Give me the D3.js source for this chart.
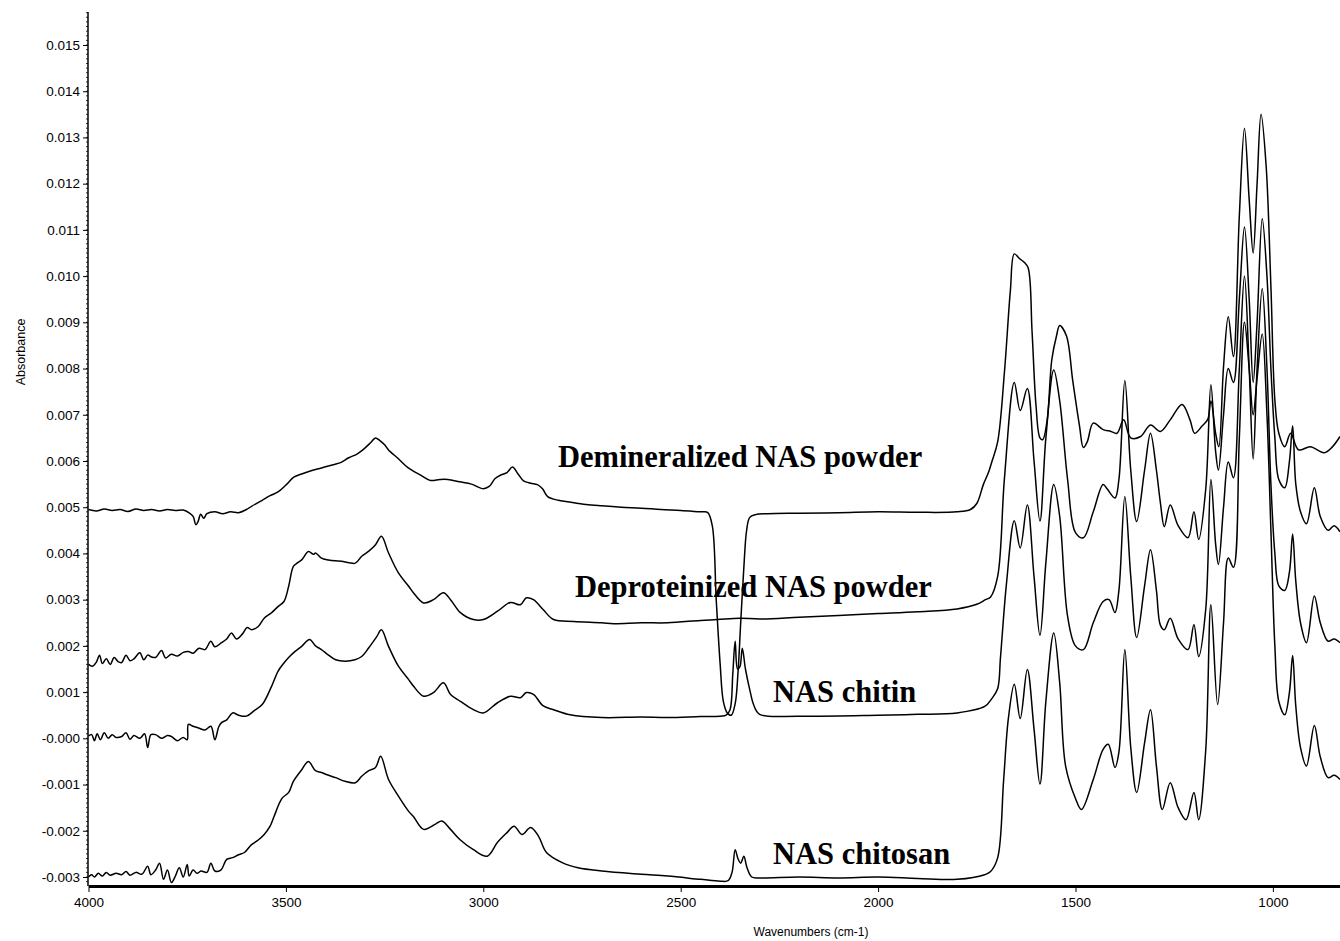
<!DOCTYPE html>
<html>
<head>
<meta charset="utf-8">
<script src="https://cdn.jsdelivr.net/npm/d3@7"></script>
<style>
  body { margin: 0; background: #fff; }
  svg { display: block; }
  .tick text { font-family: "Liberation Sans", Arial, sans-serif; font-size: 13.5px; fill: #000; }
  .lbl { font-family: "Liberation Serif", "Times New Roman", serif; font-weight: bold; font-size: 30.5px; fill: #000; }
</style>
</head>
<body>
<script>
// wavenumber (cm-1), absorbance
var demineralized = [
  [4000,4.95e-3],[3980,4.92e-3],[3960,4.96e-3],[3940,4.93e-3],[3920,4.95e-3],[3900,4.91e-3],[3880,4.96e-3],
  [3860,4.93e-3],[3840,4.95e-3],[3820,4.92e-3],[3800,4.95e-3],[3780,4.93e-3],[3760,4.94e-3],[3745,4.88e-3],
  [3735,4.80e-3],[3728,4.62e-3],[3722,4.70e-3],[3716,4.85e-3],[3708,4.76e-3],[3700,4.86e-3],[3680,4.90e-3],
  [3660,4.86e-3],[3640,4.90e-3],[3620,4.88e-3],[3600,4.95e-3],[3587,5.02e-3],[3560,5.15e-3],[3540,5.25e-3],
  [3520,5.33e-3],[3500,5.48e-3],[3480,5.65e-3],[3460,5.72e-3],[3440,5.78e-3],[3410,5.85e-3],[3380,5.92e-3],
  [3360,5.97e-3],[3341,6.07e-3],[3320,6.15e-3],[3300,6.28e-3],[3285,6.40e-3],[3273,6.50e-3],[3262,6.44e-3],
  [3250,6.35e-3],[3240,6.24e-3],[3215,6.05e-3],[3190,5.85e-3],[3160,5.70e-3],[3134,5.58e-3],[3110,5.60e-3],
  [3090,5.60e-3],[3060,5.55e-3],[3030,5.50e-3],[3000,5.40e-3],[2985,5.45e-3],[2970,5.62e-3],[2955,5.70e-3],
  [2940,5.75e-3],[2926,5.87e-3],[2912,5.72e-3],[2898,5.57e-3],[2880,5.52e-3],[2863,5.49e-3],[2850,5.40e-3],
  [2837,5.23e-3],[2810,5.15e-3],[2787,5.12e-3],[2740,5.06e-3],[2700,5.03e-3],[2650,5.00e-3],[2600,4.98e-3],
  [2550,4.95e-3],[2500,4.93e-3],[2450,4.90e-3],[2432,4.89e-3],[2420,4.60e-3],[2410,3.00e-3],[2400,1.60e-3],
  [2392,0.80e-3],[2382,0.55e-3],[2372,0.50e-3],[2362,0.75e-3],[2355,1.40e-3],[2348,2.50e-3],[2340,3.70e-3],
  [2333,4.50e-3],[2325,4.78e-3],[2310,4.84e-3],[2280,4.86e-3],[2200,4.87e-3],[2100,4.88e-3],[2000,4.90e-3],
  [1900,4.89e-3],[1800,4.90e-3],[1766,4.95e-3],[1750,5.08e-3],[1733,5.50e-3],[1720,5.76e-3],[1712,5.98e-3],
  [1697,6.42e-3],[1680,7.92e-3],[1665,9.68e-3],[1655,10.48e-3],[1642,10.38e-3],[1630,10.30e-3],[1620,10.18e-3],
  [1610,8.80e-3],[1600,7.20e-3],[1590,6.50e-3],[1583,6.46e-3],[1572,6.87e-3],[1560,8.19e-3],[1548,8.71e-3],
  [1540,8.93e-3],[1523,8.71e-3],[1507,7.74e-3],[1490,6.77e-3],[1480,6.29e-3],[1470,6.42e-3],[1455,6.82e-3],
  [1430,6.68e-3],[1410,6.64e-3],[1395,6.60e-3],[1378,6.89e-3],[1360,6.50e-3],[1335,6.53e-3],[1310,6.78e-3],
  [1285,6.64e-3],[1260,6.89e-3],[1230,7.22e-3],[1210,6.89e-3],[1198,6.60e-3],[1180,6.75e-3],[1165,6.90e-3],
  [1157,7.30e-3],[1145,6.60e-3],[1137,6.31e-3],[1125,8.04e-3],[1113,9.12e-3],[1100,8.26e-3],[1085,11.30e-3],
  [1072,13.20e-3],[1060,11.65e-3],[1050,10.50e-3],[1040,12.00e-3],[1030,13.50e-3],[1017,12.37e-3],[1005,9.77e-3],
  [995,7.32e-3],[985,6.60e-3],[970,6.31e-3],[955,6.60e-3],[935,6.24e-3],[905,6.31e-3],[870,6.18e-3],
  [850,6.30e-3],[830,6.53e-3]
];

var deproteinized = [
  [4000,1.60e-3],[3990,1.56e-3],[3980,1.65e-3],[3972,1.80e-3],[3965,1.62e-3],[3955,1.72e-3],[3945,1.60e-3],
  [3935,1.75e-3],[3925,1.66e-3],[3916,1.64e-3],[3905,1.80e-3],[3895,1.68e-3],[3885,1.72e-3],[3870,1.85e-3],
  [3860,1.70e-3],[3850,1.80e-3],[3840,1.76e-3],[3830,1.75e-3],[3815,1.90e-3],[3805,1.74e-3],[3790,1.82e-3],
  [3775,1.78e-3],[3760,1.86e-3],[3747,1.88e-3],[3735,1.84e-3],[3720,1.95e-3],[3705,1.92e-3],[3690,2.10e-3],
  [3680,1.98e-3],[3663,2.07e-3],[3650,2.15e-3],[3638,2.28e-3],[3625,2.15e-3],[3610,2.26e-3],[3598,2.40e-3],
  [3587,2.35e-3],[3570,2.42e-3],[3555,2.60e-3],[3536,2.72e-3],[3520,2.85e-3],[3505,2.96e-3],[3493,3.29e-3],
  [3481,3.72e-3],[3470,3.80e-3],[3460,3.86e-3],[3443,4.04e-3],[3430,3.98e-3],[3425,4.01e-3],[3410,3.90e-3],
  [3392,3.86e-3],[3375,3.84e-3],[3359,3.83e-3],[3340,3.80e-3],[3324,3.79e-3],[3308,3.94e-3],[3290,4.05e-3],
  [3273,4.19e-3],[3258,4.37e-3],[3240,4.01e-3],[3215,3.58e-3],[3189,3.29e-3],[3177,3.15e-3],[3151,2.93e-3],
  [3126,3.00e-3],[3101,3.15e-3],[3083,3.00e-3],[3058,2.72e-3],[3025,2.57e-3],[3000,2.57e-3],[2964,2.75e-3],
  [2931,2.94e-3],[2906,2.89e-3],[2891,3.04e-3],[2873,3.00e-3],[2848,2.78e-3],[2822,2.57e-3],[2771,2.53e-3],
  [2700,2.50e-3],[2670,2.48e-3],[2600,2.50e-3],[2533,2.50e-3],[2450,2.55e-3],[2407,2.57e-3],[2350,2.60e-3],
  [2300,2.58e-3],[2200,2.62e-3],[2100,2.66e-3],[2000,2.70e-3],[1900,2.74e-3],[1800,2.80e-3],[1750,2.90e-3],
  [1728,3.00e-3],[1715,3.06e-3],[1697,3.51e-3],[1680,5.62e-3],[1655,7.70e-3],[1640,7.09e-3],[1622,7.57e-3],
  [1605,6.00e-3],[1590,4.70e-3],[1575,6.50e-3],[1555,7.97e-3],[1540,7.30e-3],[1520,5.60e-3],[1500,4.45e-3],
  [1480,4.34e-3],[1455,4.90e-3],[1430,5.49e-3],[1420,5.40e-3],[1400,5.20e-3],[1390,5.60e-3],[1375,7.74e-3],
  [1360,5.80e-3],[1345,4.69e-3],[1325,5.80e-3],[1310,6.60e-3],[1295,5.80e-3],[1285,5.10e-3],[1275,4.58e-3],
  [1260,5.05e-3],[1240,4.60e-3],[1215,4.34e-3],[1200,4.90e-3],[1188,4.30e-3],[1170,5.40e-3],[1157,7.65e-3],
  [1145,6.20e-3],[1138,5.80e-3],[1125,7.00e-3],[1113,8.00e-3],[1100,7.70e-3],[1085,9.50e-3],[1072,11.06e-3],
  [1060,9.50e-3],[1050,7.70e-3],[1040,9.00e-3],[1027,11.24e-3],[1015,10.00e-3],[1005,8.00e-3],[995,6.50e-3],
  [985,5.60e-3],[970,5.42e-3],[958,6.00e-3],[950,6.76e-3],[942,5.50e-3],[930,4.90e-3],[915,4.64e-3],
  [895,5.42e-3],[880,4.80e-3],[860,4.50e-3],[845,4.60e-3],[830,4.47e-3]
];

var chitin = [
  [4000,0.05e-3],[3992,0.08e-3],[3985,-0.05e-3],[3978,0.10e-3],[3970,-0.03e-3],[3960,0.12e-3],[3950,0.00e-3],
  [3940,0.08e-3],[3930,0.02e-3],[3916,0.04e-3],[3905,0.12e-3],[3895,-0.02e-3],[3885,0.06e-3],[3870,0.00e-3],
  [3858,0.10e-3],[3850,-0.20e-3],[3842,0.08e-3],[3830,0.08e-3],[3815,0.00e-3],[3800,0.06e-3],[3790,0.04e-3],
  [3775,-0.05e-3],[3760,0.02e-3],[3750,-0.03e-3],[3747,0.30e-3],[3735,0.26e-3],[3720,0.22e-3],[3705,0.18e-3],
  [3690,0.26e-3],[3680,-0.03e-3],[3670,0.25e-3],[3663,0.34e-3],[3650,0.40e-3],[3635,0.55e-3],[3620,0.50e-3],
  [3600,0.48e-3],[3580,0.60e-3],[3560,0.73e-3],[3536,1.13e-3],[3520,1.45e-3],[3505,1.63e-3],[3493,1.75e-3],
  [3481,1.85e-3],[3460,1.99e-3],[3440,2.14e-3],[3425,2.00e-3],[3410,1.92e-3],[3392,1.80e-3],[3374,1.70e-3],
  [3350,1.67e-3],[3325,1.70e-3],[3308,1.77e-3],[3290,1.96e-3],[3270,2.20e-3],[3258,2.35e-3],[3240,1.99e-3],
  [3215,1.56e-3],[3189,1.27e-3],[3177,1.13e-3],[3151,0.91e-3],[3126,0.99e-3],[3101,1.20e-3],[3083,0.95e-3],
  [3058,0.80e-3],[3025,0.62e-3],[3000,0.55e-3],[2964,0.77e-3],[2931,0.91e-3],[2906,0.88e-3],[2891,0.99e-3],
  [2873,0.95e-3],[2848,0.70e-3],[2822,0.62e-3],[2780,0.51e-3],[2700,0.45e-3],[2600,0.46e-3],[2533,0.45e-3],
  [2450,0.47e-3],[2400,0.48e-3],[2385,0.50e-3],[2375,0.62e-3],[2368,1.40e-3],[2362,2.10e-3],[2356,1.50e-3],
  [2350,1.55e-3],[2344,1.95e-3],[2336,1.50e-3],[2325,1.05e-3],[2315,0.72e-3],[2300,0.52e-3],[2200,0.48e-3],
  [2000,0.50e-3],[1900,0.52e-3],[1800,0.55e-3],[1730,0.69e-3],[1712,0.86e-3],[1697,1.08e-3],[1690,1.75e-3],
  [1675,3.33e-3],[1655,4.71e-3],[1640,4.12e-3],[1622,5.05e-3],[1605,3.50e-3],[1590,2.23e-3],[1575,3.80e-3],
  [1555,5.49e-3],[1540,4.80e-3],[1520,2.64e-3],[1500,2.00e-3],[1480,1.92e-3],[1455,2.50e-3],[1430,2.96e-3],
  [1415,3.00e-3],[1400,2.72e-3],[1390,3.20e-3],[1375,5.23e-3],[1360,3.50e-3],[1345,2.18e-3],[1325,3.30e-3],
  [1310,4.08e-3],[1295,3.20e-3],[1285,2.45e-3],[1275,2.35e-3],[1260,2.60e-3],[1240,2.15e-3],[1215,1.92e-3],
  [1200,2.46e-3],[1188,1.77e-3],[1170,2.80e-3],[1157,5.60e-3],[1145,4.20e-3],[1138,3.76e-3],[1125,5.00e-3],
  [1113,5.98e-3],[1100,5.64e-3],[1085,8.00e-3],[1072,10.00e-3],[1060,8.00e-3],[1050,6.04e-3],[1040,8.00e-3],
  [1027,9.73e-3],[1015,8.00e-3],[1005,5.50e-3],[995,4.00e-3],[985,3.30e-3],[970,3.20e-3],[958,3.60e-3],
  [950,4.42e-3],[942,3.40e-3],[930,2.50e-3],[915,2.07e-3],[895,3.08e-3],[880,2.50e-3],[860,2.10e-3],
  [845,2.15e-3],[830,2.07e-3]
];

var chitosan = [
  [4000,-3.00e-3],[3992,-2.95e-3],[3985,-3.00e-3],[3975,-2.92e-3],[3965,-2.98e-3],[3955,-2.90e-3],[3945,-2.96e-3],
  [3930,-2.92e-3],[3916,-2.95e-3],[3905,-2.88e-3],[3895,-2.96e-3],[3880,-2.90e-3],[3865,-2.94e-3],[3850,-2.77e-3],
  [3842,-2.95e-3],[3830,-2.85e-3],[3820,-2.70e-3],[3810,-3.05e-3],[3800,-2.85e-3],[3790,-3.12e-3],[3780,-2.98e-3],
  [3770,-2.80e-3],[3760,-3.00e-3],[3750,-2.73e-3],[3745,-2.98e-3],[3735,-2.85e-3],[3725,-2.92e-3],[3715,-2.87e-3],
  [3700,-2.90e-3],[3690,-2.70e-3],[3680,-2.87e-3],[3665,-2.85e-3],[3650,-2.62e-3],[3635,-2.58e-3],[3620,-2.52e-3],
  [3605,-2.47e-3],[3587,-2.30e-3],[3570,-2.20e-3],[3555,-2.08e-3],[3540,-1.90e-3],[3530,-1.69e-3],[3510,-1.30e-3],
  [3493,-1.17e-3],[3481,-0.93e-3],[3460,-0.68e-3],[3443,-0.50e-3],[3425,-0.70e-3],[3410,-0.74e-3],[3392,-0.80e-3],
  [3374,-0.85e-3],[3350,-0.93e-3],[3324,-0.96e-3],[3308,-0.82e-3],[3290,-0.70e-3],[3273,-0.63e-3],[3260,-0.39e-3],
  [3240,-0.89e-3],[3215,-1.25e-3],[3189,-1.58e-3],[3177,-1.69e-3],[3151,-1.97e-3],[3120,-1.85e-3],[3105,-1.79e-3],
  [3083,-1.97e-3],[3058,-2.20e-3],[3025,-2.41e-3],[2990,-2.55e-3],[2964,-2.25e-3],[2940,-2.04e-3],[2922,-1.90e-3],
  [2902,-2.08e-3],[2880,-1.93e-3],[2860,-2.12e-3],[2840,-2.47e-3],[2800,-2.69e-3],[2760,-2.80e-3],[2700,-2.87e-3],
  [2600,-2.94e-3],[2533,-2.98e-3],[2450,-3.05e-3],[2400,-3.09e-3],[2380,-3.08e-3],[2370,-2.90e-3],[2362,-2.41e-3],
  [2355,-2.60e-3],[2348,-2.70e-3],[2340,-2.55e-3],[2332,-2.80e-3],[2320,-3.00e-3],[2300,-3.02e-3],[2200,-3.00e-3],
  [2100,-3.02e-3],[2000,-3.00e-3],[1900,-3.03e-3],[1800,-3.05e-3],[1730,-2.95e-3],[1715,-2.88e-3],[1697,-2.58e-3],
  [1682,-0.90e-3],[1670,0.43e-3],[1655,1.17e-3],[1640,0.43e-3],[1622,1.49e-3],[1605,0.20e-3],[1590,-0.99e-3],
  [1575,0.80e-3],[1555,2.28e-3],[1540,1.20e-3],[1525,-0.60e-3],[1500,-1.30e-3],[1485,-1.54e-3],[1455,-0.89e-3],
  [1430,-0.24e-3],[1417,-0.13e-3],[1400,-0.63e-3],[1390,-0.30e-3],[1375,1.92e-3],[1360,-0.20e-3],[1345,-1.17e-3],
  [1325,-0.10e-3],[1310,0.62e-3],[1295,-0.60e-3],[1280,-1.54e-3],[1260,-0.96e-3],[1240,-1.50e-3],[1220,-1.76e-3],
  [1200,-1.17e-3],[1188,-1.76e-3],[1170,-0.24e-3],[1157,2.89e-3],[1140,0.73e-3],[1125,2.50e-3],[1113,3.90e-3],
  [1100,3.70e-3],[1085,6.50e-3],[1072,9.00e-3],[1060,8.00e-3],[1050,7.00e-3],[1040,7.80e-3],[1027,8.75e-3],
  [1015,7.00e-3],[1005,4.50e-3],[995,2.00e-3],[985,0.80e-3],[970,0.51e-3],[958,1.00e-3],[950,1.79e-3],
  [942,0.70e-3],[930,-0.20e-3],[915,-0.60e-3],[895,0.28e-3],[880,-0.40e-3],[860,-0.85e-3],[845,-0.80e-3],
  [830,-0.89e-3]
];

var seriesNames = ['Demineralized NAS powder', 'Deproteinized NAS powder', 'NAS chitin', 'NAS chitosan'];
var labelAnchors = [[2811, 0.00587], [2768, 0.00306], [2266, 0.00079], [2266, -0.00272]];

var xTicks = [4000, 3500, 3000, 2500, 2000, 1500, 1000];
var yTicks = [0.015, 0.014, 0.013, 0.012, 0.011, 0.010, 0.009, 0.008, 0.007, 0.006, 0.005,
              0.004, 0.003, 0.002, 0.001, 0, -0.001, -0.002, -0.003];
var yTickLabels = ['0.015', '0.014', '0.013', '0.012', '0.011', '0.010', '0.009', '0.008', '0.007', '0.006', '0.005',
                   '0.004', '0.003', '0.002', '0.001', '-0.000', '-0.001', '-0.002', '-0.003'];

var width = 1340, height = 941;
var plotLeft = 88, plotTop = 12, plotBottom = 886;

var x = d3.scaleLinear().domain([4000, 830]).range([88.5, 1340]);
var y = d3.scaleLinear().domain([-0.003, 0.015]).range([877, 45]);

var svg = d3.select('body').append('svg')
  .attr('width', width)
  .attr('height', height);

svg.append('rect').attr('width', width).attr('height', height).attr('fill', '#fff');

svg.append('defs').append('clipPath').attr('id', 'plot')
  .append('rect').attr('x', plotLeft).attr('y', plotTop)
  .attr('width', width - plotLeft).attr('height', plotBottom - plotTop);

var line = d3.line()
  .curve(d3.curveCatmullRom.alpha(0.5))
  .x(function(d) { return x(d[0]); })
  .y(function(d) { return y(d[1]); });

svg.append('g').attr('clip-path', 'url(#plot)')
  .selectAll('path').data([demineralized, deproteinized, chitin, chitosan])
  .enter().append('path')
  .attr('d', line)
  .attr('fill', 'none')
  .attr('stroke', '#000')
  .attr('stroke-width', 1.5)
  .attr('stroke-linejoin', 'round');

// y axis with small minor marks
var yMinor = d3.range(-31, 158).map(function(i) { return i / 10000; });
svg.append('g').selectAll('line').data(yMinor).enter().append('line')
  .attr('x1', plotLeft - 2).attr('x2', plotLeft)
  .attr('y1', function(d) { return y(d); }).attr('y2', function(d) { return y(d); })
  .attr('stroke', '#000').attr('stroke-width', 0.8);

var yAxis = svg.append('g')
  .attr('transform', 'translate(' + plotLeft + ',0)')
  .call(d3.axisLeft(y).tickValues(yTicks).tickSize(5).tickPadding(3)
    .tickFormat(function(d, i) { return yTickLabels[i]; }));
yAxis.select('.domain').remove();
yAxis.selectAll('.tick line').attr('stroke', '#000');
svg.append('line').attr('x1', plotLeft).attr('x2', plotLeft).attr('y1', plotTop).attr('y2', plotBottom)
  .attr('stroke', '#000').attr('stroke-width', 1.5);

var xAxis = svg.append('g')
  .attr('transform', 'translate(0,' + plotBottom + ')')
  .call(d3.axisBottom(x).tickValues(xTicks).tickSize(6).tickSizeOuter(0).tickPadding(5)
    .tickFormat(d3.format('d')));
xAxis.select('.domain').attr('stroke', '#000').attr('stroke-width', 3);
xAxis.selectAll('.tick line').attr('stroke', '#000');

svg.append('text')
  .attr('x', 811).attr('y', 936)
  .attr('text-anchor', 'middle')
  .style('font-family', '"Liberation Sans", Arial, sans-serif')
  .style('font-size', '12px')
  .text('Wavenumbers (cm-1)');

svg.append('text')
  .attr('transform', 'translate(25,352) rotate(-90)')
  .attr('text-anchor', 'middle')
  .style('font-family', '"Liberation Sans", Arial, sans-serif')
  .style('font-size', '12.5px')
  .text('Absorbance');

svg.selectAll('text.lbl').data(seriesNames).enter().append('text')
  .attr('class', 'lbl')
  .attr('x', function(d, i) { return x(labelAnchors[i][0]); })
  .attr('y', function(d, i) { return y(labelAnchors[i][1]); })
  .text(function(d) { return d; });
</script>
</body>
</html>
